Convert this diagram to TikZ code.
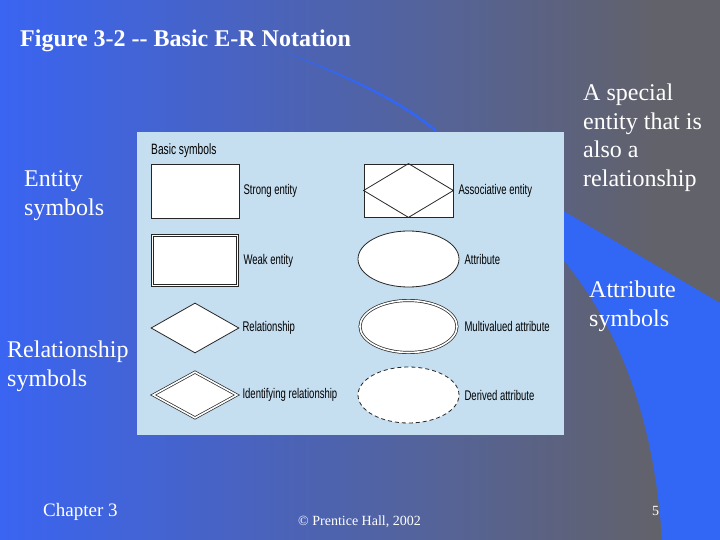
\documentclass[tikz,border=0pt]{standalone}
\usepackage{fontspec}
\setmainfont{Liberation Serif}
\newfontfamily\narrowsans[FakeStretch=0.68]{Liberation Sans}
\usetikzlibrary{positioning,
        shapes.geometric}
\definecolor{slideblue}{RGB}{58,100,242}
\definecolor{slidegray}{RGB}{98,98,106}
\definecolor{bandblue}{RGB}{50,102,245}
\definecolor{panelblue}{RGB}{197,222,240}
\tikzset{
  sym/.style={draw=black!85,fill=white,line width=0.8pt,inner sep=0pt},
  entity/.style={sym,rectangle,minimum width=88pt,minimum height=54pt},
  relship/.style={sym,diamond,minimum width=88pt,minimum height=50pt},
  attr/.style={sym,ellipse,minimum width=101pt,minimum height=56pt},
  twice/.style={double=white,double distance=1.6pt,line width=0.7pt},
  lbl/.style={inner sep=0pt,font=\narrowsans\fontsize{14}{16}\selectfont},
  sidetext/.style={text=white,align=left,inner sep=0pt,anchor=west,font=\fontsize{24}{29}\selectfont}
}

\begin{document}
\begin{tikzpicture}[x=1pt,y=-1pt]
  \useasboundingbox (0,0) rectangle (720,540);
  % slide background
  \fill[slidegray] (0,0) rectangle (720,540);
  \shade[left color=slideblue,right color=slidegray] (0,0) rectangle (660,540);
  \fill[bandblue] (555,206) -- (720,303) -- (720,540) -- (662,540) .. controls (655,430) and (625,330) .. (555,250) -- cycle;
  \fill[bandblue] (280,50) .. controls (350,76) and (400,99) .. (437,130) -- (434,131) .. controls (398,101) and (348,78) .. (280,50) -- cycle;

  % figure panel
  \fill[panelblue] (137,132) rectangle (564,435);
  \node[lbl,anchor=west,font=\narrowsans\fontsize{15}{17}\selectfont] (basic) at (151,151) {Basic symbols};

  \node[entity] (strong) at (195,191) {};
  \node[entity,twice,minimum width=85pt,minimum height=50pt] (weak) at (195,260.5) {};
  \node[relship] (rel) at (195,328) {};
  \node[relship,twice,minimum width=84pt,minimum height=46pt] (ident) at (195,395) {};

  \node[entity,minimum width=89pt,minimum height=53pt] (assoc) at (408.5,190.5) {};
  \draw[line width=0.8pt,draw=black!85] (assoc.north) -- (assoc.east) -- (assoc.south) -- (assoc.west) -- cycle;
  \node[attr] (attrib) at (408.5,259) {};
  \node[attr,twice,minimum width=97pt,minimum height=52pt] (multi) at (408.5,326.5) {};
  \node[attr,dash pattern=on 4pt off 3pt] (derived) at (408.5,395) {};

  \node[lbl,right=4pt of strong] {Strong entity};
  \node[lbl,right=5.5pt of weak] {Weak entity};
  \node[lbl,right=3pt of rel] {Relationship};
  \node[lbl,right=5pt of ident] {Identifying relationship};
  \node[lbl,right=5pt of assoc] {Associative entity};
  \node[lbl,right=5pt of attrib] {Attribute};
  \node[lbl,right=7pt of multi] {Multivalued attribute};
  \node[lbl,right=5pt of derived] {Derived attribute};

  % slide texts
  \node[sidetext,font=\bfseries\fontsize{24}{28}\selectfont] (title) at (20,41) {Figure 3-2 {-}{-} Basic E-R Notation};
  \node[sidetext] (enttxt) at (24,195.5) {Entity\\symbols};
  \node[sidetext] (reltxt) at (7,366.5) {Relationship\\symbols};
  \node[sidetext,font=\fontsize{24}{28.5}\selectfont] (assoctxt) at (583,137.5) {A special\\entity that is\\also a\\relationship};
  \node[sidetext] (attrtxt) at (589,306.5) {Attribute\\symbols};
  \node[sidetext,font=\fontsize{19}{22}\selectfont] (chapter) at (43,512) {Chapter 3};
  \node[sidetext,font=\fontsize{14}{16}\selectfont] (copy) at (298,522) {© Prentice Hall, 2002};
  \node[sidetext,font=\fontsize{14}{16}\selectfont] (page) at (652,511) {5};
\end{tikzpicture}
\end{document}
